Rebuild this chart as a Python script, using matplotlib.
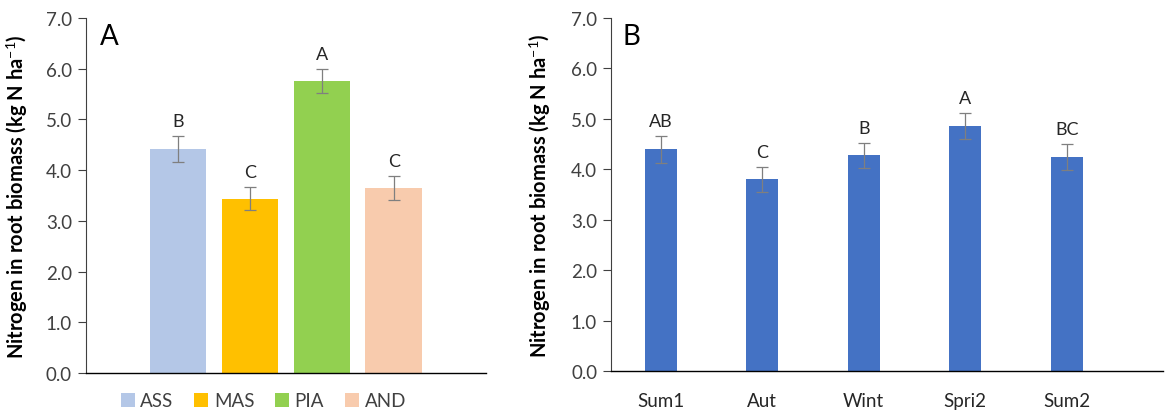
import matplotlib
matplotlib.use("Agg")
import matplotlib.pyplot as plt
from matplotlib.patches import Patch

plt.rcParams['font.family'] = ['Lato', 'DejaVu Sans']
plt.rcParams['mathtext.fontset'] = 'custom'
plt.rcParams['mathtext.rm'] = 'Lato'
plt.rcParams['mathtext.bf'] = 'Lato:bold'

# Panel A data
treatments = ["ASS", "MAS", "PIA", "AND"]
treat_vals = [4.42, 3.44, 5.76, 3.65]
treat_err = [0.25, 0.23, 0.24, 0.24]
treat_letters = ["B", "C", "A", "C"]
treat_colors = ["#B4C7E7", "#FFC000", "#92D050", "#F8CBAD"]

# Panel B data
seasons = ["Sum1", "Aut", "Wint", "Spri2", "Sum2"]
season_vals = [4.40, 3.80, 4.28, 4.86, 4.25]
season_err = [0.27, 0.25, 0.25, 0.26, 0.26]
season_letters = ["AB", "C", "B", "A", "BC"]
season_color = "#4472C4"

yticks = [0.0, 1.0, 2.0, 3.0, 4.0, 5.0, 6.0, 7.0]
ylabel = "Nitrogen in root biomass (kg N ha$^{-1}$)"

fig = plt.figure(figsize=(11.65, 4.14), dpi=100)
axA = fig.add_axes([0.0738, 0.0966, 0.3433, 0.8575])
axB = fig.add_axes([0.5245, 0.1014, 0.4738, 0.8527])

err_kw = dict(ecolor="#7F7F7F", elinewidth=0.9, capsize=4, capthick=0.9)

def style(ax):
    ax.set_ylim(0, 7)
    ax.set_yticks(yticks)
    ax.set_yticklabels([f"{t:.1f}" for t in yticks], fontsize=13.5, color="#404040")
    ax.spines['top'].set_visible(False)
    ax.spines['right'].set_visible(False)
    ax.spines['left'].set_color("#404040")
    ax.spines['bottom'].set_color("black")
    ax.spines['bottom'].set_linewidth(1.0)
    ax.tick_params(axis='y', direction='out', length=6, width=0.8, color="#404040", pad=4)
    ax.set_ylabel(ylabel, fontsize=14.5, fontweight='bold', color="black")

# Panel A
xa = list(range(len(treatments)))
axA.bar(xa, treat_vals, width=0.79, color=treat_colors, yerr=treat_err, error_kw=err_kw)
axA.set_xlim(-1.28, 4.28)
axA.set_xticks([])
style(axA)
axA.yaxis.set_label_coords(-0.14, 0.5)
for x, v, e, l in zip(xa, treat_vals, treat_err, treat_letters):
    axA.annotate(l, (x, v + e), xytext=(0, 5), textcoords="offset points",
                 ha="center", va="bottom", fontsize=13, color="#262626")
axA.text(0.035, 0.985, "A", transform=axA.transAxes, fontsize=20, ha="left", va="top")
handles = [Patch(facecolor=c, edgecolor="none") for c in treat_colors]
fig.legend(handles, treatments, loc="center", bbox_to_anchor=(0.226, 0.029), ncol=4,
           frameon=False, fontsize=13.5, handlelength=0.75, handleheight=0.75,
           handletextpad=0.3, columnspacing=1.1, labelcolor="#404040")

# Panel B
xb = list(range(len(seasons)))
axB.bar(xb, season_vals, width=0.315, color=season_color, yerr=season_err, error_kw=err_kw)
axB.set_xlim(-0.49, 4.95)
axB.set_xticks(xb)
axB.set_xticklabels(seasons, fontsize=13.5, color="#262626")
axB.tick_params(axis='x', length=0, pad=15)
style(axB)
axB.yaxis.set_label_coords(-0.105, 0.5)
for x, v, e, l in zip(xb, season_vals, season_err, season_letters):
    axB.annotate(l, (x, v + e), xytext=(0, 5), textcoords="offset points",
                 ha="center", va="bottom", fontsize=13, color="#262626")
axB.text(0.02, 0.985, "B", transform=axB.transAxes, fontsize=20, ha="left", va="top")

fig.savefig("out.png", dpi=100)
